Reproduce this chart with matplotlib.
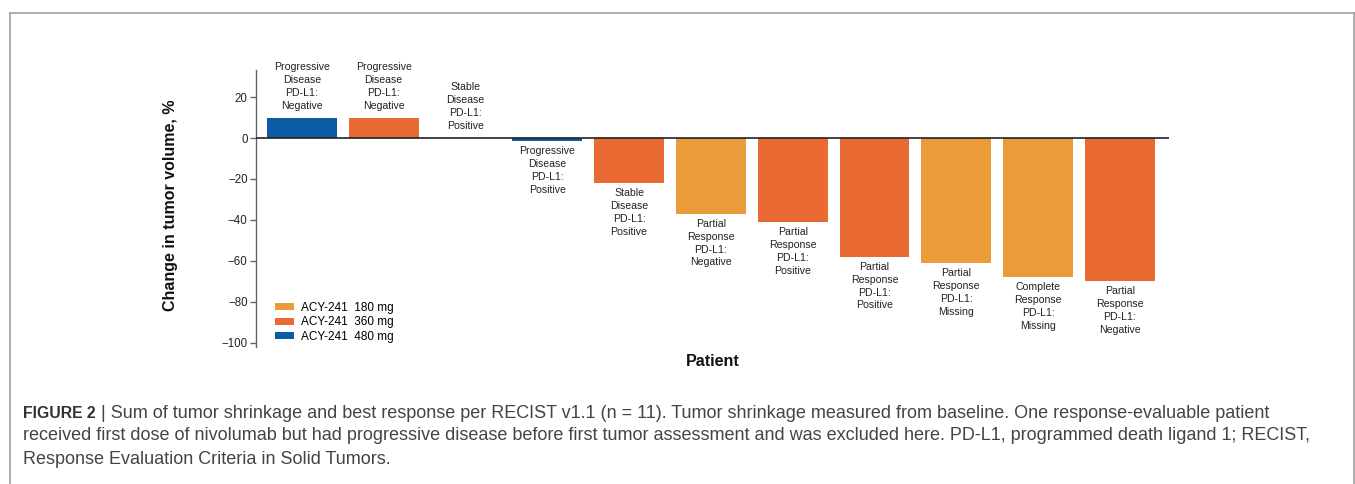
import matplotlib
matplotlib.use("Agg")
import matplotlib.pyplot as plt
from matplotlib.patches import Patch
from matplotlib.lines import Line2D

plt.rcParams['font.family'] = ['Liberation Sans', 'DejaVu Sans']

# ---- data ----
patients = list(range(11))
change = [10, 10, 0, -1.5, -22, -37, -41, -58, -61, -68, -70]
dose = ['480', '360', '360', '480', '360', '180', '360', '360', '180', '180', '360']
response = ['Progressive\nDisease', 'Progressive\nDisease', 'Stable\nDisease',
            'Progressive\nDisease', 'Stable\nDisease', 'Partial\nResponse',
            'Partial\nResponse', 'Partial\nResponse', 'Partial\nResponse',
            'Complete\nResponse', 'Partial\nResponse']
pdl1 = ['Negative', 'Negative', 'Positive', 'Positive', 'Positive', 'Negative',
        'Positive', 'Positive', 'Missing', 'Missing', 'Negative']
dose_labels = ['180', '360', '480']
yticks = [20, 0, -20, -40, -60, -80, -100]

colors = {'180': '#EA9C3A', '360': '#E96A32', '480': '#0B5CA5'}

W, H = 1355, 484
fig = plt.figure(figsize=(W / 100, H / 100), dpi=100)
ax = fig.add_axes([256 / W, 1 - 347 / H, (1169 - 256) / W, (347 - 70.4) / H])

ax.bar(patients, change, width=0.855, color=[colors[d] for d in dose], zorder=2)
ax.set_xlim(-0.56, 10.6)
ax.set_ylim(-102, 33)

ax.axhline(0, color='#222222', lw=1.2, zorder=3)
for s in ['top', 'right', 'bottom']:
    ax.spines[s].set_visible(False)
ax.spines['left'].set_color('#666666')
ax.spines['left'].set_linewidth(1.0)
ax.set_xticks([])
ax.set_yticks(yticks)
ax.set_yticklabels([f'\u2212{abs(t)}' if t < 0 else str(t) for t in yticks])
ax.tick_params(axis='y', direction='out', length=4, width=1, color='#666666',
               labelsize=8.3, labelcolor='#222222', pad=2)

for x, v, r, p in zip(patients, change, response, pdl1):
    txt = f'{r}\nPD-L1:\n{p}'
    if v >= 0:
        ax.annotate(txt, (x, v), xytext=(0, 7), textcoords='offset pixels',
                    ha='center', va='bottom', fontsize=7.6, color='#222222',
                    linespacing=1.36)
    else:
        ax.annotate(txt, (x, v), xytext=(0, -5), textcoords='offset pixels',
                    ha='center', va='top', fontsize=7.6, color='#222222',
                    linespacing=1.36)

handles = [Patch(facecolor=colors[d], edgecolor='none') for d in dose_labels]
labels = [f'ACY-241  {d} mg' for d in dose_labels]
fig.legend(handles, labels, loc='upper left', bbox_to_anchor=(275 / W, 1 - 302 / H),
           frameon=False, fontsize=8.5, handlelength=1.6, handleheight=0.55,
           handletextpad=0.6, labelspacing=0.2, borderpad=0, borderaxespad=0)

fig.text(170 / W, 1 - 205 / H, 'Change in tumor volume, %', rotation=90,
         ha='center', va='center', fontsize=11.5, fontweight='bold', color='#111111')
fig.text(713 / W, 1 - 361 / H, 'Patient', ha='center', va='center',
         fontsize=11.5, fontweight='bold', color='#111111')

# frame
border = '#A6A6A6'
fig.add_artist(Line2D([9.5 / W, 9.5 / W], [0, 1 - 12.5 / H], transform=fig.transFigure, color=border, lw=1.3))
fig.add_artist(Line2D([9.5 / W, 1354 / W], [1 - 12.5 / H, 1 - 12.5 / H], transform=fig.transFigure, color=border, lw=1.3))
fig.add_artist(Line2D([1354 / W, 1354 / W], [0, 1 - 12.5 / H], transform=fig.transFigure, color=border, lw=1.3))

# caption
cap_col = '#444444'
cap_fs = 13.0
renderer = fig.canvas.get_renderer()
t0 = fig.text(23 / W, 1 - 413 / H, 'FIGURE 2', fontsize=11.3, fontweight='bold',
              color='#333333', va='center', ha='left')
bb = t0.get_window_extent(renderer)
fig.text(bb.x1 / W, 1 - 413 / H,
         ' | Sum of tumor shrinkage and best response per RECIST v1.1 (n = 11). Tumor shrinkage measured from baseline. One response-evaluable patient',
         fontsize=cap_fs, color=cap_col, va='center', ha='left')
fig.text(23 / W, 1 - 436 / H,
         'received first dose of nivolumab but had progressive disease before first tumor assessment and was excluded here. PD-L1, programmed death ligand 1; RECIST,',
         fontsize=cap_fs, color=cap_col, va='center', ha='left')
fig.text(23 / W, 1 - 459 / H, 'Response Evaluation Criteria in Solid Tumors.',
         fontsize=cap_fs, color=cap_col, va='center', ha='left')

fig.savefig('out.png', dpi=100, facecolor='white')
